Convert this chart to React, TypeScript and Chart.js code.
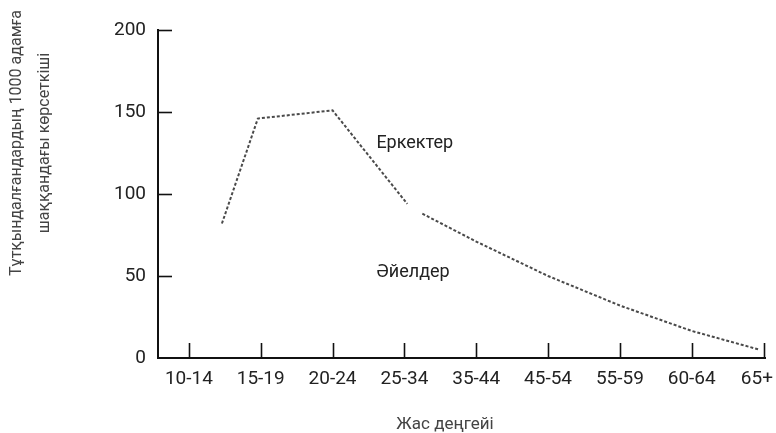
import React, { useEffect, useRef } from 'react';
import { Chart, registerables } from 'chart.js';

Chart.register(...registerables);

// Categories (age groups) along the x axis
const ageGroups = ['10-14', '15-19', '20-24', '25-34', '35-44', '45-54', '55-59', '60-64', '65+'];
// Line: position along the age axis (category index) and rate per 1000 people
const lineX = [0.46, 0.96, 2.0, 3.04, 3.15, 3.25, 4, 5, 6, 7, 7.95];
const lineY: (number | null)[] = [82, 146, 151, 94, null, 88, 71, 50, 32, 16.5, 5];
// Y axis ticks
const yTicks = [0, 50, 100, 150, 200];
// In-chart labels (text, category position, value)
const noteTexts = ['Еркектер', 'Әйелдер'];
const noteX = [2.61, 2.61];
const noteY = [131, 52];
// Titles
const yTitleLines = ['Тұтқындалғандардың 1000 адамға', 'шаққандағы көрсеткіші'];
const xTitle = 'Жас деңгейі';

const FONT = 'Roboto, "Liberation Sans", sans-serif';

const decorPlugin = {
  id: 'decor',
  afterDraw(chart: any) {
    const ctx = chart.ctx as CanvasRenderingContext2D;
    const xs = chart.scales.x;
    const ys = chart.scales.y;
    const a = chart.chartArea;
    ctx.save();
    // inward tick marks
    ctx.strokeStyle = '#111';
    ctx.lineWidth = 1.6;
    yTicks.forEach((v) => {
      if (v === 0) return;
      const py = Math.round(ys.getPixelForValue(v)) + 0.5;
      ctx.beginPath();
      ctx.moveTo(a.left, py);
      ctx.lineTo(a.left + 14, py);
      ctx.stroke();
    });
    ageGroups.forEach((_, i) => {
      const px = Math.round(xs.getPixelForValue(i)) + 0.5;
      ctx.beginPath();
      ctx.moveTo(px, a.bottom);
      ctx.lineTo(px, a.bottom - 15);
      ctx.stroke();
    });
    // x tick labels
    ctx.font = `19px ${FONT}`;
    ctx.fillStyle = '#222';
    ctx.textAlign = 'center';
    ctx.textBaseline = 'middle';
    ageGroups.forEach((g, i) => {
      const w = ctx.measureText(g).width;
      let px = xs.getPixelForValue(i);
      px = Math.min(px, chart.width - 3 - w / 2);
      ctx.fillText(g, px, a.bottom + 21);
    });
    // in-chart notes
    ctx.font = `18px ${FONT}`;
    ctx.fillStyle = '#222';
    ctx.textAlign = 'left';
    noteTexts.forEach((t, i) => {
      ctx.fillText(t, xs.getPixelForValue(noteX[i]), ys.getPixelForValue(noteY[i]));
    });
    // x title
    ctx.font = `17px ${FONT}`;
    ctx.fillStyle = '#444';
    ctx.textAlign = 'center';
    ctx.fillText(xTitle, 445, 425);
    // y title
    ctx.font = `16px ${FONT}`;
    ctx.translate(0, 143);
    ctx.rotate(-Math.PI / 2);
    ctx.fillText(yTitleLines[0], 0, 17);
    ctx.fillText(yTitleLines[1], 0, 45);
    ctx.restore();
  },
};

export default function App() {
  const canvasRef = useRef<HTMLCanvasElement | null>(null);

  useEffect(() => {
    if (!canvasRef.current) return;
    const chart = new Chart(canvasRef.current, {
      type: 'line',
      data: {
        datasets: [
          {
            data: lineX.map((x, i) => ({ x, y: lineY[i] as any })),
            borderColor: '#4a4a4a',
            borderWidth: 2,
            borderDash: [3, 2],
            pointRadius: 0,
            tension: 0,
            spanGaps: false,
          },
        ],
      },
      options: {
        animation: false,
        responsive: true,
        maintainAspectRatio: false,
        layout: { padding: { left: 8, right: 11, top: 30, bottom: 0 } },
        plugins: { legend: { display: false }, tooltip: { enabled: false } },
        scales: {
          x: {
            type: 'linear',
            min: -0.43,
            max: 8.02,
            grid: { display: false, drawTicks: false },
            border: { display: true, color: '#111', width: 2 },
            ticks: { display: false },
            afterFit: (s: any) => {
              s.height = 75;
              s.paddingLeft = 0;
              s.paddingRight = 0;
            },
          },
          y: {
            min: 0,
            max: 200,
            grid: { display: false, drawTicks: false },
            border: { display: true, color: '#111', width: 2 },
            afterBuildTicks: (s: any) => {
              s.ticks = yTicks.map((v) => ({ value: v }));
            },
            ticks: {
              padding: 12,
              color: '#222',
              font: { family: FONT, size: 19 },
            },
            afterFit: (s: any) => {
              s.width = 150;
              s.paddingTop = 0;
              s.paddingBottom = 0;
            },
          },
        },
      },
      plugins: [decorPlugin],
    });
    return () => chart.destroy();
  }, []);

  return (
    <div style={{ position: 'fixed', left: 0, top: 0, width: 776, height: 433, background: '#fff' }}>
      <canvas ref={canvasRef} />
    </div>
  );
}
